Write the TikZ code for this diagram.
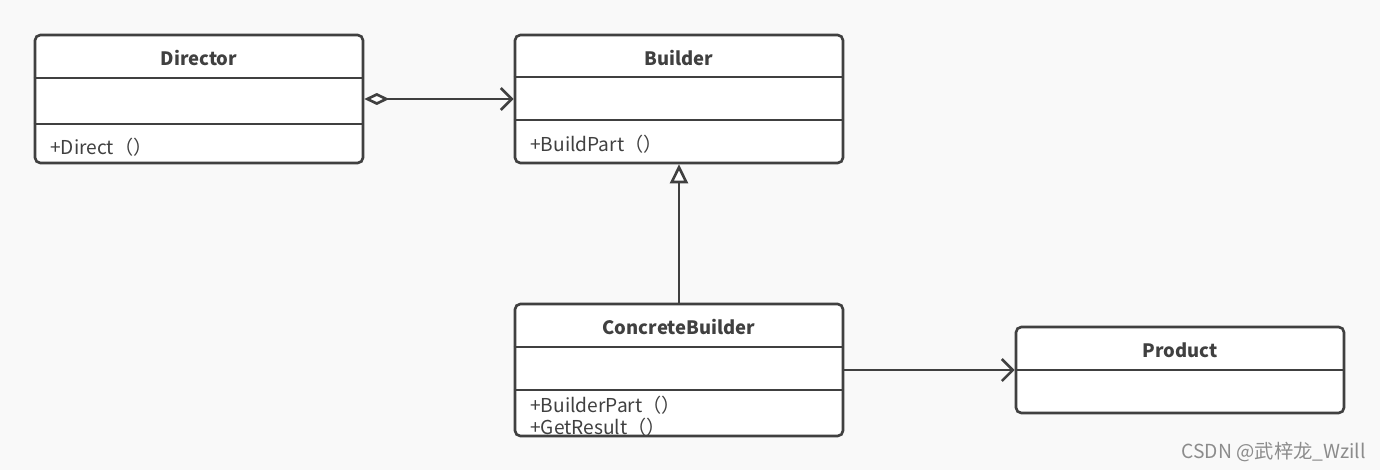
\documentclass[tikz,border=0pt]{standalone}
\usepackage{fontspec}
\setmainfont{Noto Sans CJK SC}
\usetikzlibrary{arrows.meta,positioning}
\definecolor{linec}{HTML}{404040}
\definecolor{bgc}{HTML}{F9F9F9}
\tikzset{
  class box/.style={
    draw=linec,fill=white,line width=1.5pt,
    rounded corners=3pt,minimum width=6.56cm,inner sep=0pt
  },
  class name/.style={
    font=\bfseries\fontsize{10.5}{12}\selectfont,text=linec
  },
  class member/.style={
    font=\fontsize{10.9}{13}\selectfont,text=linec,
    anchor=west,inner sep=0pt
  },
  divider/.style={draw=linec,line width=1.5pt},
  uml line/.style={draw=linec,line width=1.5pt}
}

\begin{document}
\begin{tikzpicture}[x=0.02cm,y=-0.02cm]
  \fill[bgc] (0,0) rectangle (1380,470);
  \useasboundingbox (0,0) rectangle (1380,470);

  % classes
  \node[class box,minimum height=2.56cm] (dir) at (199,99) {};
  \node[class box,minimum height=2.56cm] (bld) at (679,99) {};
  \node[class box,minimum height=2.64cm] (cb) at (679,370) {};
  \node[class box,minimum height=1.72cm] (prod) at (1180,370) {};

  \draw[divider] (dir.west |- 0,78) -- (dir.east |- 0,78);
  \draw[divider] (dir.west |- 0,124) -- (dir.east |- 0,124);
  \draw[divider] (bld.west |- 0,77) -- (bld.east |- 0,77);
  \draw[divider] (bld.west |- 0,120) -- (bld.east |- 0,120);
  \draw[divider] (cb.west |- 0,347) -- (cb.east |- 0,347);
  \draw[divider] (cb.west |- 0,390) -- (cb.east |- 0,390);
  \draw[divider] (prod.west) -- (prod.east);

  \node[class name] (dir-name) at (199,58) {Director};
  \node[class name] (bld-name) at (679,58) {Builder};
  \node[class name] (cb-name) at (679,327) {ConcreteBuilder};
  \node[class name] (prod-name) at (1180,350) {Product};

  \node[class member] (dir-op) at (50,147) {+Direct（）};
  \node[class member] (bld-op) at (530,144) {+BuildPart（）};
  \node[class member] (cb-op1) at (530,405) {+BuilderPart（）};
  \node[class member] (cb-op2) at (530,427) {+GetResult（）};

  % relations
  \draw[uml line,
    {Diamond[open,length=0.5cm,width=0.24cm,fill=white]}-{Straight Barb[length=0.22cm,width=0.44cm]}]
    (dir.east) -- (bld.west);
  \draw[uml line,-{Triangle[open,length=0.38cm,width=0.36cm,fill=white]}]
    (cb.north) -- (bld.south);
  \draw[uml line,-{Straight Barb[length=0.22cm,width=0.44cm]}]
    (cb.east) -- (prod.west);

  \node[anchor=east,text=gray!90,font=\fontsize{11}{13}\selectfont]
    (mark) at (1372,452) {CSDN @武梓龙\_Wzill};
\end{tikzpicture}
\end{document}
